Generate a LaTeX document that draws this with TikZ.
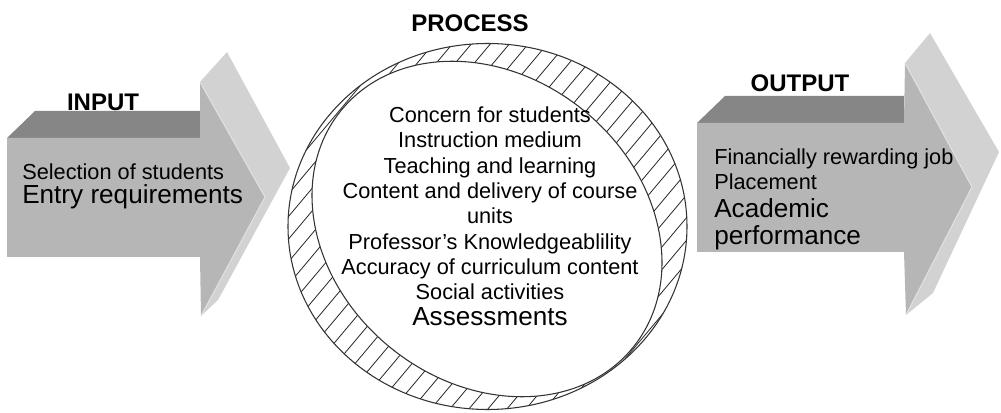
\documentclass[tikz,border=0pt]{standalone}
\usepackage{fontspec}
\setmainfont{Liberation Sans}
\definecolor{frontgray}{RGB}{182,182,182}
\definecolor{topgray}{RGB}{134,134,134}
\definecolor{sidegray}{RGB}{210,210,210}
\definecolor{edgegray}{RGB}{225,225,225}
\begin{document}
\begin{tikzpicture}[x=0.75pt,y=-0.75pt,
  front/.style={fill=frontgray},
  topface/.style={fill=topgray},
  sideface/.style={fill=sidegray},
  edgeline/.style={draw=edgegray, line width=0.8pt},
  titletext/.style={font=\fontsize{18}{21}\selectfont\bfseries, anchor=base, inner sep=0},
  smalltext/.style={font=\fontsize{16.3}{19}\selectfont, inner sep=0},
  bigtext/.style={font=\fontsize{19.6}{22}\selectfont, inner sep=0},
  ring/.style={draw=black!80, line width=0.8pt},
  hatchline/.style={draw=black!85, line width=0.6pt}
]
\useasboundingbox (0,0) rectangle (1001,413);

% ---------- INPUT arrow ----------
\fill[sideface] (200,82) -- (227,52) -- (290,168) -- (218,300) -- (201,316) -- (265,197) -- cycle;
\fill[topface] (7,138) -- (35,111) -- (200,111) -- (200,138) -- cycle;
\fill[front] (7,138) -- (200,138) -- (200,82) -- (265,197) -- (201,316) -- (200,257) -- (7,257) -- cycle;
\draw[edgeline] (200,82) -- (265,197) -- (201,316);

% ---------- OUTPUT arrow ----------
\fill[sideface] (905,63) -- (930,33) -- (999,152) -- (933,293) -- (906,315) -- (972,187) -- cycle;
\fill[topface] (697,123) -- (725,96) -- (904,96) -- (904,123) -- cycle;
\fill[front] (697,123) -- (904,123) -- (905,63) -- (972,187) -- (906,315) -- (904,252) -- (697,252) -- cycle;
\draw[edgeline] (905,63) -- (972,187) -- (906,315);

% ---------- PROCESS ring ----------
\begin{scope}
  \clip (487.5,226.5) ellipse [x radius=199.5, y radius=183];
  \foreach \k in {-40,...,40} {
    \draw[hatchline] ({487+19*\k-0.643*300},{229+0.766*300}) -- ({487+19*\k+0.643*300},{229-0.766*300});
  }
\end{scope}
\draw[ring] (487.5,226.5) ellipse [x radius=199.5, y radius=183];
\draw[ring, fill=white, shift={(487,229)}, rotate=-39] (0,0) ellipse [x radius=188, y radius=153];

% ---------- titles ----------
\node[titletext] (tin) at (103,110.7) {INPUT};
\node[titletext] (tproc) at (470,32) {PROCESS};
\node[titletext] (tout) at (800,91.7) {OUTPUT};

% ---------- input texts ----------
\node[smalltext, anchor=base west] (in1) at (22,180) {Selection of students};
\node[bigtext, anchor=base west] (in2) at (22,203.3) {Entry requirements};

% ---------- process texts ----------
\node[smalltext, anchor=base] (p1) at (490,122.7) {Concern for students};
\node[smalltext, anchor=base] (p2) at (490,148) {Instruction medium};
\node[smalltext, anchor=base] (p3) at (490,173.3) {Teaching and learning};
\node[smalltext, anchor=base] (p4) at (490,198.6) {Content and delivery of course};
\node[smalltext, anchor=base] (p5) at (490,223.9) {units};
\node[smalltext, anchor=base] (p6) at (490,249.2) {Professor’s Knowledgeablility};
\node[smalltext, anchor=base] (p7) at (490,274.5) {Accuracy of curriculum content};
\node[smalltext, anchor=base] (p8) at (490,299.8) {Social activities};
\node[bigtext, anchor=base] (p9) at (490,326) {Assessments};

% ---------- output texts ----------
\node[smalltext, anchor=base west] (o1) at (714,165) {Financially rewarding job};
\node[smalltext, anchor=base west] (o2) at (714,189.3) {Placement};
\node[bigtext, anchor=base west] (o3) at (714,218) {Academic};
\node[bigtext, anchor=base west] (o4) at (714,245) {performance};
\end{tikzpicture}
\end{document}
